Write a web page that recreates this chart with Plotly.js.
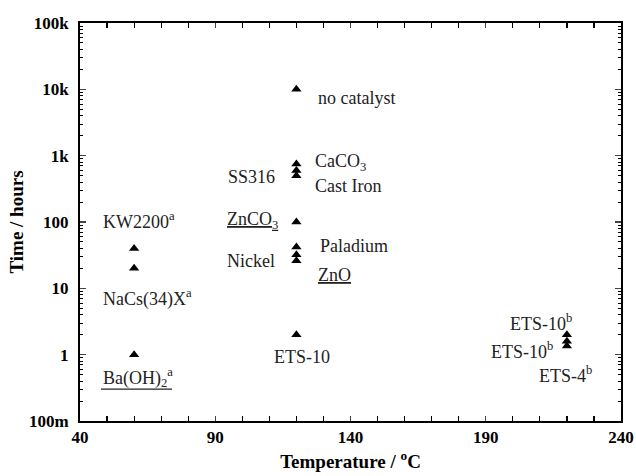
<!DOCTYPE html>
<html>
<head>
<meta charset="utf-8">
<script src="https://cdn.plot.ly/plotly-3.0.1.min.js"></script>
<style>html,body{margin:0;padding:0;background:#fff;}#chart{width:636px;height:476px;}</style>
</head>
<body>
<div id="chart"></div>
<script>
// ---- data ----
const tempLow = [60, 60, 60];
const timeLow = [40, 20, 1];
const tempMid = [120, 120, 120, 120, 120, 120, 120, 120, 120];
const timeMid = [10000, 750, 600, 500, 100, 42, 32, 26, 2];
const tempHigh = [220, 220, 220];
const timeHigh = [2, 1.6, 1.35];

const xTickVals = [40, 90, 140, 190, 240];
const yTickVals = [0.1, 1, 10, 100, 1000, 10000, 100000];
const yTickText = ['100m', '1', '10', '100', '1k', '10k', '100k'];

const labelTexts = [
  'no catalyst', 'CaCO<sub>3</sub>', 'Cast Iron', 'SS316', '<u>ZnCO<sub>3</sub></u>',
  'Paladium', 'Nickel', '<u>ZnO</u>', 'ETS-10',
  'KW2200<sup>a</sup>', 'NaCs(34)X<sup>a</sup>', 'Ba(OH)<sub>2</sub><sup>a</sup>',
  'ETS-10<sup>b</sup>', 'ETS-10<sup>b</sup>', 'ETS-4<sup>b</sup>'
];
const labelX = [127.2, 126.1, 126.1, 112.8, 113.9, 128, 112.8, 127.2, 122, 47.8, 47.8, 47.8, 198.2, 191.2, 209];
const labelY = [7400, 780, 350, 477, 104, 43.5, 25.9, 15.9, 0.92, 107, 7.2, 0.46, 3.1, 1.14, 0.51];
const labelAnchor = ['left', 'left', 'left', 'right', 'right', 'left', 'right', 'left', 'center',
  'left', 'left', 'left', 'left', 'left', 'left'];

// ---- chart ----
const serif = 'Liberation Serif, Times New Roman, serif';
const marker = {symbol: 'triangle-up', size: 9, color: '#000'};
const traces = [
  {x: tempLow, y: timeLow, mode: 'markers', type: 'scatter', marker: marker},
  {x: tempMid, y: timeMid, mode: 'markers', type: 'scatter', marker: marker},
  {x: tempHigh, y: timeHigh, mode: 'markers', type: 'scatter', marker: marker}
];

const annotations = labelTexts.map((t, i) => ({
  x: labelX[i], y: Math.log10(labelY[i]), xref: 'x', yref: 'y',
  text: t, showarrow: false, xanchor: labelAnchor[i], yanchor: 'middle',
  font: {family: serif, size: 18, color: '#222'}
}));

const layout = {
  width: 636, height: 476,
  margin: {l: 80, r: 15, t: 23, b: 55},
  paper_bgcolor: '#fff', plot_bgcolor: '#fff',
  showlegend: false,
  font: {family: serif},
  xaxis: {
    range: [40, 240], tickvals: xTickVals, ticks: 'inside', ticklen: 5, tickwidth: 1.2,
    showgrid: false, zeroline: false, showline: true, linewidth: 2, linecolor: '#000', mirror: 'ticks',
    tickfont: {family: serif, size: 17, color: '#000', weight: 'bold'},
    minor: {dtick: 10, ticks: 'inside', ticklen: 5, tickwidth: 1.2, tickcolor: '#000', showgrid: false},
    title: {text: 'Temperature / <sup>o</sup>C', font: {family: serif, size: 19, color: '#000', weight: 'bold'}, standoff: 8}
  },
  yaxis: {
    type: 'log', range: [-1, 5], tickvals: yTickVals, ticktext: yTickText,
    ticks: 'inside', ticklen: 6, tickwidth: 1.2, ticklabelstandoff: 6,
    showgrid: false, zeroline: false, showline: true, linewidth: 2, linecolor: '#000', mirror: 'ticks',
    tickfont: {family: serif, size: 17, color: '#000', weight: 'bold'},
    minor: {dtick: 'D1', ticks: 'inside', ticklen: 3, tickwidth: 1, tickcolor: '#000', showgrid: false},
    title: {text: 'Time / hours', font: {family: serif, size: 19, color: '#000', weight: 'bold'}, standoff: 0}
  },
  shapes: [
    {type: 'line', xref: 'paper', yref: 'paper', x0: 0.0388, x1: 0.170, y0: 0.08, y1: 0.08,
     line: {color: '#222', width: 1.2}}
  ],
  annotations: annotations
};

Plotly.newPlot('chart', traces, layout, {displayModeBar: false, staticPlot: true});
</script>
</body>
</html>
